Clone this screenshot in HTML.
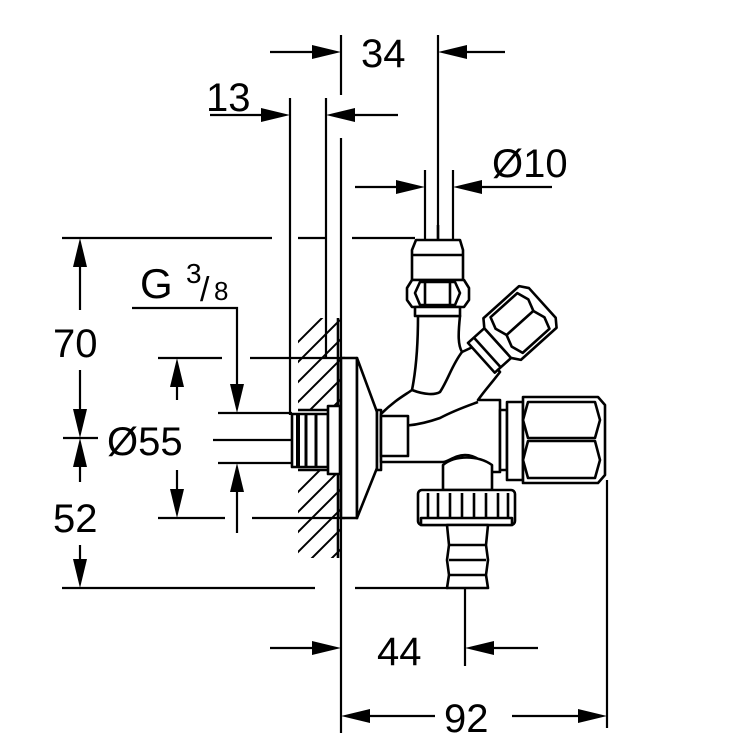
<!DOCTYPE html>
<html><head><meta charset="utf-8"><style>
html,body{margin:0;padding:0;background:#fff}
svg{display:block}
text{font-family:"Liberation Sans",sans-serif;fill:#000}
</style></head><body>
<svg width="750" height="750" viewBox="0 0 750 750" xmlns="http://www.w3.org/2000/svg">
<defs>
<clipPath id="wallTop"><rect x="298" y="318" width="42" height="92"/></clipPath>
<clipPath id="wallBot"><rect x="298" y="470" width="42" height="88"/></clipPath>
</defs>
<g stroke="#000" stroke-width="2.2" fill="none">
<line x1="341" y1="35" x2="341" y2="95"/>
<line x1="438" y1="35" x2="438" y2="240"/>
<line x1="270" y1="52" x2="312" y2="52"/>
<line x1="466" y1="52" x2="505" y2="52"/>
<line x1="290" y1="98" x2="290" y2="415"/>
<line x1="326" y1="98" x2="326" y2="358"/>
<line x1="210" y1="115" x2="262" y2="115"/>
<line x1="354" y1="115" x2="398" y2="115"/>
<line x1="341" y1="138" x2="341" y2="733"/>
<line x1="425" y1="170" x2="425" y2="240"/>
<line x1="453" y1="170" x2="453" y2="240"/>
<line x1="355" y1="187" x2="397" y2="187"/>
<line x1="481" y1="187" x2="552" y2="187"/>
<line x1="62" y1="238" x2="272" y2="238"/>
<line x1="298" y1="238" x2="325" y2="238"/>
<line x1="352" y1="238" x2="415" y2="238"/>
<line x1="62" y1="588" x2="315" y2="588"/>
<line x1="355" y1="588" x2="448" y2="588"/>
<line x1="80" y1="264" x2="80" y2="310"/>
<line x1="80" y1="370" x2="80" y2="412"/>
<line x1="80" y1="464" x2="80" y2="482"/>
<line x1="80" y1="545" x2="80" y2="562"/>
<line x1="63" y1="438" x2="98" y2="438"/>
<line x1="158" y1="358" x2="222" y2="358"/>
<line x1="250" y1="358" x2="345" y2="358"/>
<line x1="158" y1="518" x2="225" y2="518"/>
<line x1="252" y1="518" x2="345" y2="518"/>
<line x1="177" y1="384" x2="177" y2="400"/>
<line x1="177" y1="470" x2="177" y2="492"/>
<line x1="218" y1="413" x2="292" y2="413"/>
<line x1="213" y1="440" x2="292" y2="440"/>
<line x1="218" y1="463" x2="292" y2="463"/>
<polyline points="132,308 237,308 237,387"/>
<line x1="237" y1="489" x2="237" y2="533"/>
<line x1="465" y1="588" x2="465" y2="666"/>
<line x1="270" y1="648" x2="314" y2="648"/>
<line x1="492" y1="648" x2="538" y2="648"/>
<line x1="368" y1="716" x2="435" y2="716"/>
<line x1="512" y1="716" x2="580" y2="716"/>
<line x1="607" y1="480" x2="607" y2="728"/>
</g>
<g fill="#000">
<polygon points="341,52 312,45 312,59"/>
<polygon points="438,52 467,45 467,59"/>
<polygon points="290,115 261,108 261,122"/>
<polygon points="326,115 355,108 355,122"/>
<polygon points="425,187 396,180 396,194"/>
<polygon points="453,187 482,180 482,194"/>
<polygon points="80,238 73,267 87,267"/>
<polygon points="80,438 73,409 87,409"/>
<polygon points="80,438 73,467 87,467"/>
<polygon points="80,588 73,559 87,559"/>
<polygon points="177,358 170,387 184,387"/>
<polygon points="177,518 170,489 184,489"/>
<polygon points="237,413 230,384 244,384"/>
<polygon points="237,463 230,492 244,492"/>
<polygon points="341,648 312,641 312,655"/>
<polygon points="465,648 494,641 494,655"/>
<polygon points="341,716 370,709 370,723"/>
<polygon points="607,716 578,709 578,723"/>
</g>
<text x="361" y="67" font-size="40">34</text>
<text x="206" y="111" font-size="40">13</text>
<text x="492" y="177" font-size="40">Ø10</text>
<text x="53" y="357" font-size="40">70</text>
<text x="53" y="532" font-size="40">52</text>
<text x="107" y="455" font-size="40">Ø55</text>
<text x="140" y="298" font-size="42">G</text>
<text x="186" y="283" font-size="28">3</text>
<text x="200" y="301" font-size="34">/</text>
<text x="214" y="300" font-size="26">8</text>
<text x="377" y="665" font-size="40">44</text>
<text x="444" y="732" font-size="40">92</text>
<g stroke="#000" stroke-width="2" clip-path="url(#wallTop)">
<path d="M290,350 l50,-50 M290,370 l50,-50 M290,390 l60,-60 M290,410 l60,-60 M300,420 l50,-50 M310,430 l40,-40"/>
</g>
<g stroke="#000" stroke-width="2" clip-path="url(#wallBot)">
<path d="M290,500 l50,-50 M290,520 l60,-60 M290,540 l60,-60 M290,560 l60,-60 M300,570 l50,-50 M310,580 l40,-40"/>
</g>
<g stroke="#000" stroke-width="2.6" fill="#fff" stroke-linejoin="round">
<line x1="298" y1="410" x2="340" y2="410"/>
<line x1="298" y1="470" x2="340" y2="470"/>
<line x1="338" y1="318" x2="338" y2="558"/>
<rect x="292" y="414" width="36" height="53"/>
<rect x="328" y="406" width="12" height="68"/>
<line x1="298" y1="414" x2="298" y2="467" stroke-width="4"/>
<line x1="306" y1="414" x2="306" y2="467" stroke-width="3"/>
<line x1="316" y1="414" x2="316" y2="467" stroke-width="3"/>
<rect x="341" y="358" width="16" height="160"/>
<polygon points="357,358 377,412 377,468 357,518"/>
<rect x="377" y="410" width="4" height="60"/>
<path d="M381,414 C395,400 405,395 412,390 C418,360 418,330 418,316 L460,316 C458,335 458,345 462,352 L477,345 L500,372 C490,385 485,390 478,400 L500,400 L500,472 L490,472 C485,462 475,455 465,455 C455,455 448,462 443,462 L381,462 Z"/>
<path d="M381,420 C395,430 420,425 440,418 C455,410 470,405 478,402" fill="none"/>
<path d="M412,390 C425,395 435,395 440,392 C448,380 452,365 462,352" fill="none"/>
<rect x="381" y="416" width="27" height="40"/>
<path d="M416,240 L460,240 L463,250 L463,280 L412,280 L412,250 Z"/>
<line x1="412" y1="255" x2="463" y2="255"/>
<path d="M412,280 L464,280 L469,288 L469,300 L464,307 L412,307 L407,300 L407,288 Z"/>
<path d="M420,282 L455,282 L460,293 L455,305 L420,305 L415,293 Z"/>
<line x1="425" y1="282" x2="425" y2="305"/>
<line x1="450" y1="282" x2="450" y2="305"/>
<rect x="415" y="307" width="45" height="9"/>
<line x1="438" y1="225" x2="438" y2="240"/>
<g transform="translate(520,323) rotate(-42)">
<rect x="-52" y="-20" width="28" height="40"/>
<line x1="-44" y1="-20" x2="-44" y2="20"/>
<line x1="-30" y1="-20" x2="-30" y2="20"/>
<path d="M-24,-28 L24,-28 L30,-20 L30,20 L24,28 L-24,28 L-30,20 L-30,-20 Z"/>
<path d="M-18,-24 L18,-24 L22,-12 L18,0 L-18,0 L-22,-12 Z"/>
<path d="M-18,0 L18,0 L22,12 L18,24 L-18,24 L-22,12 Z"/>
</g>
<rect x="500" y="410" width="7" height="60"/>
<rect x="507" y="402" width="16" height="78"/>
<path d="M523,397 L598,397 L605,405 L605,475 L598,483 L523,483 Z"/>
<path d="M528,402 L595,402 L600,420 L595,438 L528,438 L523,420 Z"/>
<path d="M528,441 L595,441 L600,460 L595,478 L528,478 L523,460 Z"/>
<path d="M443,490 L443,465 C455,455 478,455 492,465 L492,490 Z"/>
<rect x="418" y="490" width="97" height="35" rx="4"/>
<path d="M428,493 v28 M438,493 v28 M450,493 v28 M462,493 v28 M474,493 v28 M486,493 v28 M498,493 v28 M508,493 v28"/>
<rect x="421" y="518" width="91" height="7"/>
<path d="M447,525 L488,525 L486,545 L488,560 L486,575 L488,588 L447,588 L449,575 L447,560 L449,545 Z"/>
<line x1="449" y1="545" x2="486" y2="545"/>
<line x1="449" y1="560" x2="486" y2="560"/>
<line x1="449" y1="575" x2="486" y2="575"/>
</g>
</svg>
</body></html>
